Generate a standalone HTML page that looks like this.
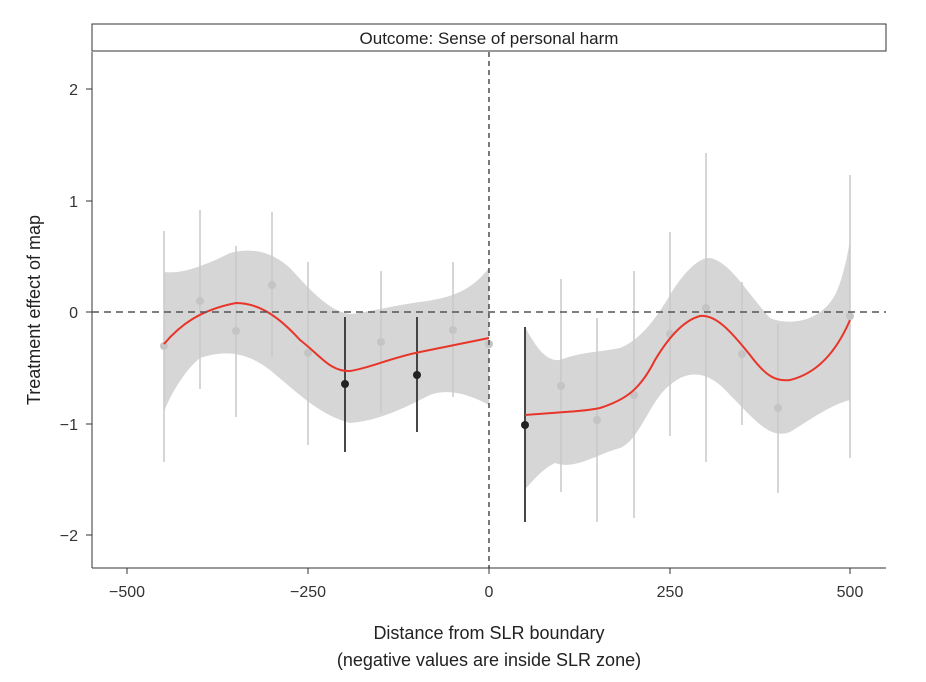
<!DOCTYPE html>
<html><head><style>body{margin:0;background:#fff}svg{display:block}</style></head><body>
<svg width="926" height="682" xmlns="http://www.w3.org/2000/svg" font-family="Liberation Sans, sans-serif">
<rect x="92" y="24" width="794" height="27" fill="#fff" stroke="#333" stroke-width="1"/>
<text x="489" y="44" font-size="17" text-anchor="middle" fill="#222">Outcome: Sense of personal harm</text>
<line x1="92" y1="52" x2="92" y2="568" stroke="#333"/>
<line x1="92" y1="568" x2="886" y2="568" stroke="#333"/>
<g stroke="#333"><line x1="86" y1="89" x2="92" y2="89"/><line x1="86" y1="201" x2="92" y2="201"/><line x1="86" y1="312" x2="92" y2="312"/><line x1="86" y1="424" x2="92" y2="424"/><line x1="86" y1="535" x2="92" y2="535"/>
<line x1="127" y1="568" x2="127" y2="574"/><line x1="308" y1="568" x2="308" y2="574"/><line x1="489" y1="568" x2="489" y2="574"/><line x1="670" y1="568" x2="670" y2="574"/><line x1="850" y1="568" x2="850" y2="574"/></g>
<g font-size="16" fill="#333" text-anchor="end"><text x="78" y="95">2</text><text x="78" y="207">1</text><text x="78" y="318">0</text><text x="78" y="430">−1</text><text x="78" y="541">−2</text></g>
<g font-size="16" fill="#333" text-anchor="middle"><text x="127" y="597">−500</text><text x="308" y="597">−250</text><text x="489" y="597">0</text><text x="670" y="597">250</text><text x="850" y="597">500</text></g>
<text x="489" y="639" font-size="18" text-anchor="middle" fill="#222">Distance from SLR boundary</text>
<text x="489" y="666" font-size="18" text-anchor="middle" fill="#222">(negative values are inside SLR zone)</text>
<text transform="translate(40,310) rotate(-90)" font-size="18" text-anchor="middle" fill="#222">Treatment effect of map</text>
<path d="M164,272 C180,274 200,268 230,253 C250,248 270,250 290,268 C310,290 330,312 350,314 C370,312 390,306 420,302 C450,298 470,292 489,268 L489,405 C470,395 450,388 430,395 C400,410 380,420 350,423 C320,415 300,395 270,370 C250,355 230,348 200,358 C185,370 170,395 164,412 Z" fill="#d6d6d6"/>
<path d="M525,327 C535,345 545,362 560,360 C580,352 600,352 620,348 C640,340 655,320 670,295 C685,270 700,257 710,258 C730,262 745,290 770,318 C790,326 820,322 835,295 C845,275 850,240 850,240 L850,400 C830,405 810,420 790,432 C770,440 755,420 730,395 C710,372 690,368 670,385 C650,400 640,440 620,448 C595,455 575,470 555,463 C540,470 530,485 525,489 Z" fill="#d6d6d6"/>
<g stroke="#c8c8c8" stroke-width="1.5">
<line x1="164" y1="231" x2="164" y2="462"/><line x1="200" y1="210" x2="200" y2="389"/><line x1="236" y1="246" x2="236" y2="417"/><line x1="272" y1="212" x2="272" y2="357"/><line x1="308" y1="262" x2="308" y2="445"/><line x1="381" y1="271" x2="381" y2="413"/><line x1="453" y1="262" x2="453" y2="397"/>
<line x1="561" y1="279" x2="561" y2="492"/><line x1="597" y1="318" x2="597" y2="522"/><line x1="634" y1="271" x2="634" y2="518"/><line x1="670" y1="232" x2="670" y2="436"/><line x1="706" y1="153" x2="706" y2="462"/><line x1="742" y1="282" x2="742" y2="425"/><line x1="778" y1="324" x2="778" y2="493"/><line x1="850" y1="175" x2="850" y2="458"/></g>
<g stroke="#333" stroke-width="1.8"><line x1="345" y1="317" x2="345" y2="452"/><line x1="417" y1="317" x2="417" y2="432"/><line x1="525" y1="327" x2="525" y2="522"/></g>
<g fill="#c4c4c4"><circle cx="164" cy="346" r="4"/><circle cx="200" cy="301" r="4"/><circle cx="236" cy="331" r="4"/><circle cx="272" cy="285" r="4"/><circle cx="308" cy="353" r="4"/><circle cx="381" cy="342" r="4"/><circle cx="453" cy="330" r="4"/><circle cx="489" cy="344" r="4"/>
<circle cx="561" cy="386" r="4"/><circle cx="597" cy="420" r="4"/><circle cx="634" cy="395" r="4"/><circle cx="670" cy="334" r="4"/><circle cx="706" cy="308" r="4"/><circle cx="742" cy="354" r="4"/><circle cx="778" cy="408" r="4"/><circle cx="850" cy="316" r="4"/></g>
<g fill="#222"><circle cx="345" cy="384" r="4"/><circle cx="417" cy="375" r="4"/><circle cx="525" cy="425" r="4"/></g>
<path d="M164,344 C180,325 200,310 236,303 C260,303 280,318 300,340 C320,355 330,372 350,371 C370,368 390,358 420,352 C450,346 470,342 489,338" fill="none" stroke="#e8352a" stroke-width="2"/>
<path d="M525,415 C560,412 580,412 600,408 C625,400 640,390 655,360 C670,335 685,320 700,316 C715,314 730,330 750,355 C765,375 775,382 790,380 C815,374 835,355 850,320" fill="none" stroke="#e8352a" stroke-width="2"/>
<line x1="92" y1="312" x2="886" y2="312" stroke="#555" stroke-width="1.6" stroke-dasharray="7,5"/>
<line x1="489" y1="52" x2="489" y2="568" stroke="#333" stroke-width="1.3" stroke-dasharray="5,4"/>
</svg>
</body></html>
